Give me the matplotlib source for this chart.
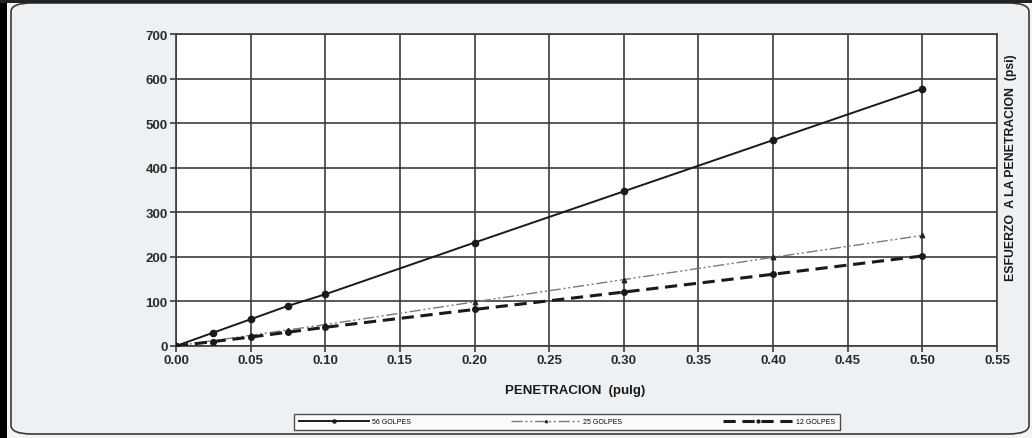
import matplotlib
matplotlib.use("Agg")
import matplotlib.pyplot as plt
from matplotlib.patches import FancyBboxPatch, Rectangle

plt.rcParams['font.family'] = ['Liberation Sans', 'DejaVu Sans']

# Penetration readings (in) and stresses (psi) for each compaction energy
penetracion = [0.0, 0.025, 0.05, 0.075, 0.1, 0.2, 0.3, 0.4, 0.5]
golpes_56 = [0, 30, 60, 90, 116, 232, 347, 462, 577]
golpes_25 = [0, 12, 24, 36, 48, 99, 149, 199, 248]
golpes_12 = [0, 10, 20, 31, 42, 82, 121, 161, 202]

x_ticks = [0.00, 0.05, 0.10, 0.15, 0.20, 0.25, 0.30, 0.35, 0.40, 0.45, 0.50, 0.55]
y_ticks = [0, 100, 200, 300, 400, 500, 600, 700]

W, H = 1032, 439
fig = plt.figure(figsize=(W / 100, H / 100), dpi=100)
fig.patch.set_facecolor('#f2f4f6')

# Framed panel behind the chart
panel = FancyBboxPatch((11 / W, 4 / H), (W - 14) / W, (H - 8) / H,
                       boxstyle="round,pad=0,rounding_size=0.02",
                       transform=fig.transFigure, facecolor='#edf1f4',
                       edgecolor='#3a3a3a', linewidth=1.2, zorder=0)
fig.patches.append(panel)
fig.patches.append(Rectangle((0, 0), 7 / W, 1, transform=fig.transFigure,
                             facecolor='black', edgecolor='none', zorder=0.5))
fig.patches.append(Rectangle((0, 1 - 4 / H), 1, 4 / H, transform=fig.transFigure,
                             facecolor='#222222', edgecolor='none', zorder=0.5))

ax = fig.add_axes([176 / W, 1 - 347 / H, (997 - 176) / W, (347 - 35) / H])
ax.set_zorder(2)
ax.set_facecolor('white')

ax.plot(penetracion, golpes_56, color='#1a1a1a', lw=1.4, marker='o', ms=4.5,
        label='56 GOLPES', zorder=4)
ax.plot(penetracion, golpes_25, color='#7a7a7a', lw=1.0, dashes=(8, 2, 1.5, 2, 1.5, 2),
        marker='^', ms=3.2, mfc='#222222', mec='#222222', label='25 GOLPES', zorder=3)
ax.plot(penetracion, golpes_12, color='#1a1a1a', lw=2.2, dashes=(4, 2.2),
        marker='o', ms=4, label='12 GOLPES', zorder=3)

ax.set_xlim(0, 0.55)
ax.set_ylim(0, 700)
ax.set_xticks(x_ticks)
ax.set_xticklabels([f"{v:.2f}" for v in x_ticks])
ax.set_yticks(y_ticks)
ax.grid(True, color='#3c3c3c', lw=1.2)
ax.set_axisbelow(True)
for s in ax.spines.values():
    s.set_color('#3c3c3c')
    s.set_linewidth(1.2)
ax.tick_params(direction='out', length=4, width=1.1, color='#2a2a2a',
               labelsize=9.5, labelcolor='#2a2a2a', pad=2)
for lab in ax.get_xticklabels() + ax.get_yticklabels():
    lab.set_fontweight('bold')

fig.text(575 / W, 1 - 391 / H, 'PENETRACION  (pulg)', ha='center', va='center',
         fontsize=9.5, fontweight='bold', color='#1a1a1a', zorder=3)
fig.text(1011 / W, 1 - 168 / H, 'ESFUERZO  A LA PENETRACION  (psi)', rotation=90,
         ha='center', va='center', fontsize=8.8, fontweight='bold', color='#1a1a1a',
         zorder=3)

leg = fig.legend(loc='center', bbox_to_anchor=(567 / W, 1 - 423 / H), ncol=3,
                 fontsize=5, frameon=True, fancybox=False, edgecolor='#222222',
                 handlelength=10, columnspacing=14.5, borderpad=0.7, handletextpad=0.4,
                 markerscale=0.5)
leg.set_zorder(3)
leg.get_frame().set_linewidth(1.0)
leg.get_frame().set_facecolor('white')

fig.savefig('out.png', dpi=100, facecolor=fig.get_facecolor())
